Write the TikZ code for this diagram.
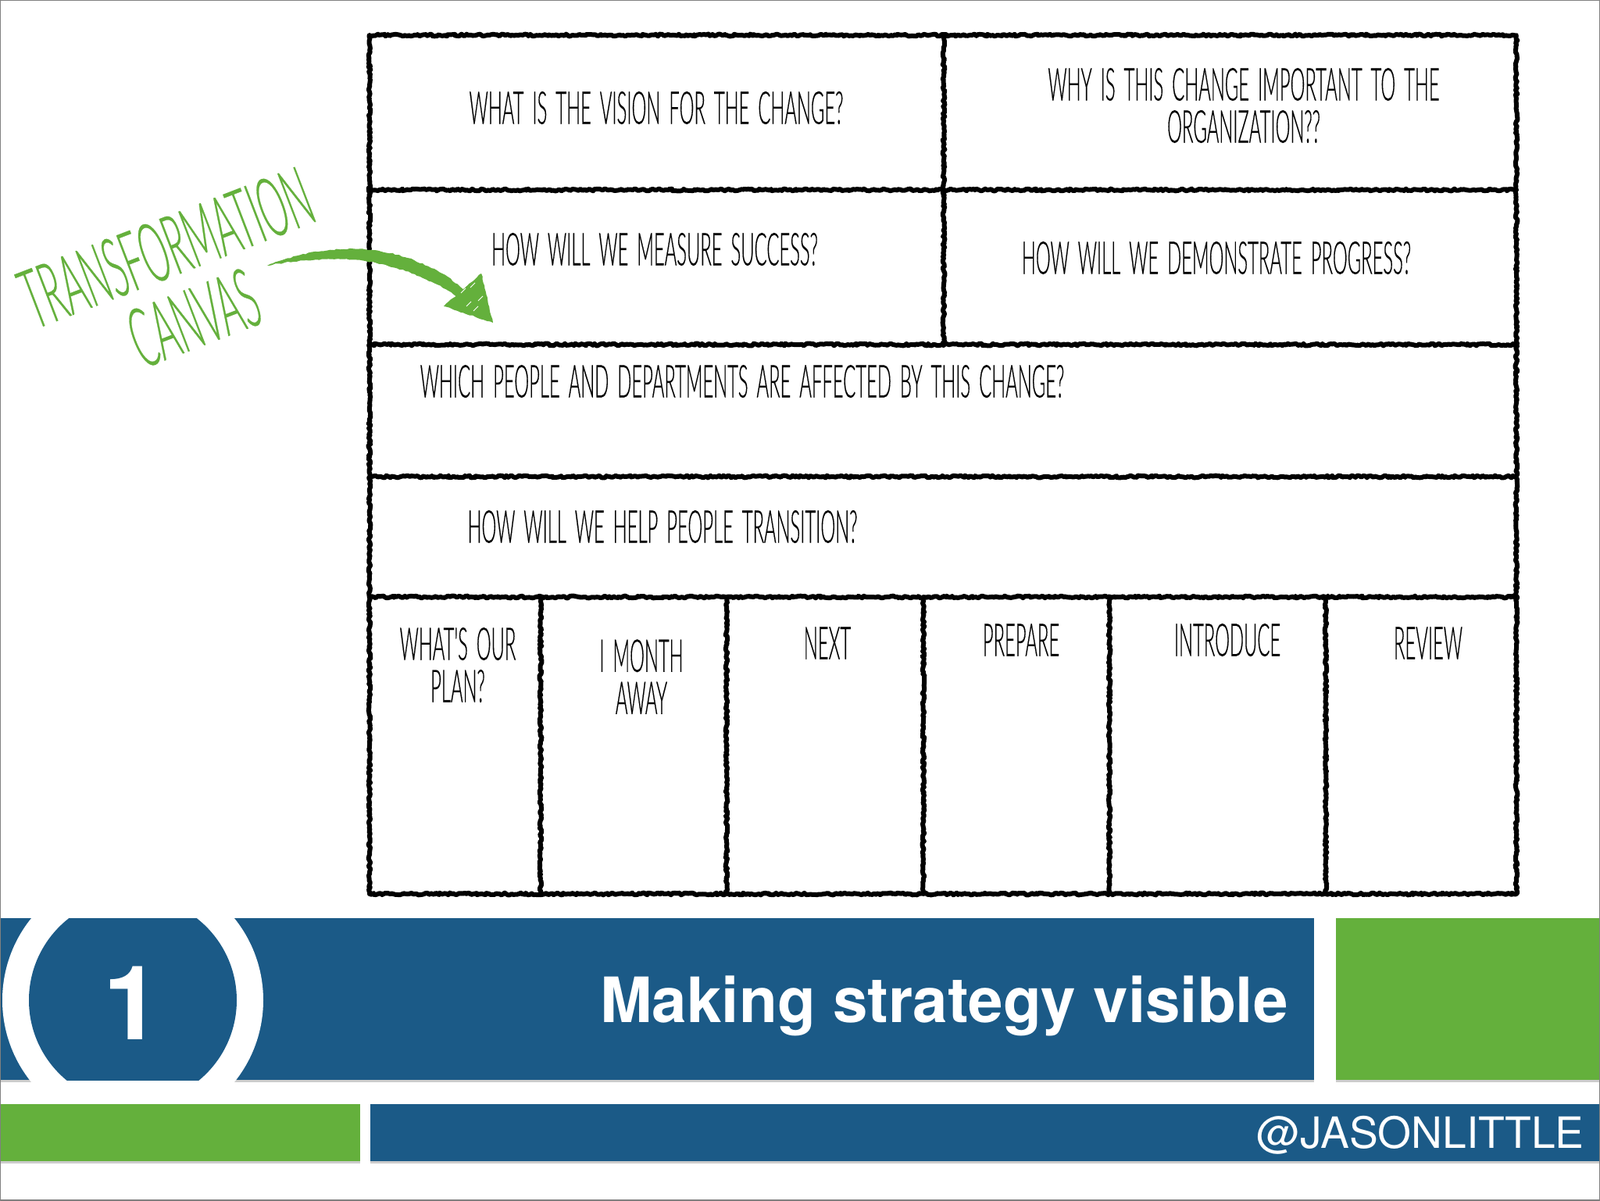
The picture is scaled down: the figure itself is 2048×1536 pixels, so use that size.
\documentclass[tikz,border=0pt]{standalone}
\usepackage{fontspec}
\setmainfont{TeX Gyre Heros}
\newfontfamily\handfont[FakeStretch=.41, FakeBold=.25, WordSpace=1.7]{Lato Light}
\usetikzlibrary{shadows}
\usetikzlibrary{decorations.pathmorphing}
\definecolor{barblue}{HTML}{1B5A87}
\definecolor{bargreen}{HTML}{64B03C}
\tikzset{
	roughline/.style={draw=black, line width=3pt, line cap=round, line join=round, decorate, decoration={random steps, segment length=1.2pt, amplitude=.7pt}},
	question/.style={font=\handfont\fontsize{29}{27}\selectfont, align=center, inner sep=0pt, text=black},
	sidelabel/.style={font=\handfont\fontsize{53}{50}\selectfont, text=bargreen, rotate=21, inner sep=0pt},
	bar/.style={draw=none, drop shadow={shadow xshift=0pt, shadow yshift=-1.5pt, opacity=.4}},
	sketchy/.style={fill=bargreen, decorate, decoration={random steps, segment length=2pt, amplitude=.4pt}},
}
\begin{document}
\begin{tikzpicture}[x=.5pt, y=-.5pt]
	\useasboundingbox (0,0) rectangle (2048,1536);
	\fill[white] (0,0) rectangle (2048,1536);
	% canvas grid
	\coordinate (tl) at (473,45);
	\coordinate (tm) at (1208,45);
	\coordinate (tr) at (1941,45);
	\coordinate (al) at (473,243);
	\coordinate (am) at (1208,243);
	\coordinate (ar) at (1941,243);
	\coordinate (bl) at (473,441);
	\coordinate (bm) at (1208,441);
	\coordinate (br) at (1941,441);
	\coordinate (cl) at (473,610);
	\coordinate (cr) at (1941,610);
	\coordinate (dl) at (473,764);
	\coordinate (dr) at (1941,764);
	\coordinate (el) at (473,1144);
	\coordinate (er) at (1941,1144);
	\fill[white, bar] (tl) rectangle (er);
	\draw[roughline] (tl) -- (tr) -- (er) -- (el) -- cycle;
	\draw[roughline] (tm) -- (bm);
	\draw[roughline] (al) -- (ar);
	\draw[roughline] (bl) -- (br);
	\draw[roughline] (cl) -- (cr);
	\draw[roughline] (dl) -- (dr);
	\foreach \x/\name in {692/a, 930/b, 1182/c, 1420/d, 1697/e}{
		\coordinate (up\name) at (\x,764);
		\coordinate (lo\name) at (\x,1144);
		\draw[roughline] (up\name) -- (lo\name);
	}
	\node[question] (vision) at (840,138) {WHAT IS THE VISION FOR THE CHANGE?};
	\node[question] (why) at (1592,135) {WHY IS THIS CHANGE IMPORTANT TO THE\\ORGANIZATION??};
	\node[question] (measure) at (838,319) {HOW WILL WE MEASURE SUCCESS?};
	\node[question] (progress) at (1557,330) {HOW WILL WE DEMONSTRATE PROGRESS?};
	\node[question] (people) at (950,488) {WHICH PEOPLE AND DEPARTMENTS ARE AFFECTED BY THIS CHANGE?};
	\node[question] (help) at (848,674) {HOW WILL WE HELP PEOPLE TRANSITION?};
	\node[question] (plan) at (586,851) {WHAT'S OUR\\PLAN?};
	\node[question] (month) at (821,866) {I MONTH\\AWAY};
	\node[question] (next) at (1059,823) {NEXT};
	\node[question] (prepare) at (1307,819) {PREPARE};
	\node[question] (introduce) at (1571,819) {INTRODUCE};
	\node[question] (review) at (1828,823) {REVIEW};
	% green note and arrow
	\node[sidelabel] (transformation) at (213,317) {TRANSFORMATION};
	\node[sidelabel] (canvas) at (248,407) {CANVAS};
	\fill[sketchy] (342,340) .. controls (400,316) and (470,310) .. (530,333) .. controls (560,345) and (585,360) .. (600,378) -- (590,384) .. controls (570,367) and (530,347) .. (480,336) .. controls (430,328) and (385,332) .. (342,340) -- cycle;
	\fill[sketchy] (568,392) -- (616,350) -- (631,413) -- cycle;
	\foreach \x/\y in {590/375, 602/368, 597/392, 612/385, 606/398}{
		\draw[white, line width=.5pt] (\x,\y) -- ++(6,-6);
	}
	% title bars
	\fill[barblue, bar] (0,1175) rectangle (1682,1382);
	\fill[bargreen, bar] (1710,1175) rectangle (2047,1382);
	\begin{scope}
		\clip (0,1175) rectangle (400,1392);
		\fill[white] (170,1280) circle[radius=167];
		\clip (0,1175) rectangle (400,1382);
		\fill[barblue] (170,1280) circle[radius=133];
	\end{scope}
	\fill[bargreen, bar] (0,1413) rectangle (461,1486);
	\fill[barblue, bar] (474,1413) rectangle (2047,1486);
	\node[text=white, font=\bfseries\fontsize{66}{66}\selectfont, inner sep=0pt] (number) at (169,1284) {1};
	\node[text=white, font=\bfseries\fontsize{40}{40}\selectfont, anchor=east, inner sep=0pt] (title) at (1649,1287) {Making strategy visible};
	\node[text=white, font=\fontsize{27.6}{28}\selectfont, anchor=east, inner sep=0pt] (handle) at (2028,1453) {@JASONLITTLE};
	\draw[gray, line width=.6pt] (0,0) rectangle (2048,1536);
\end{tikzpicture}
\end{document}
